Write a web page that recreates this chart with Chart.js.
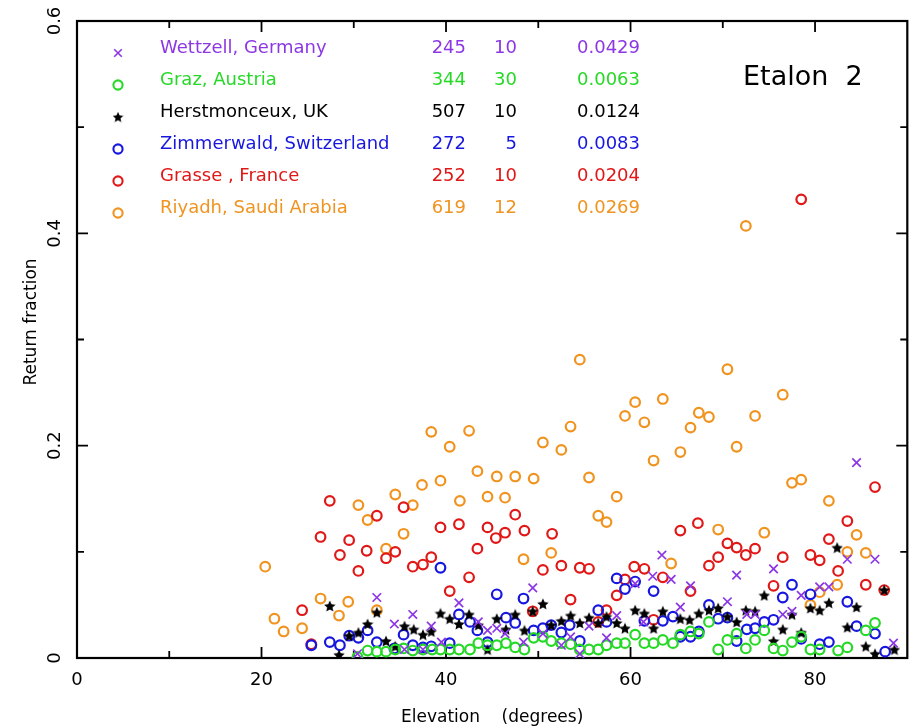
<!DOCTYPE html>
<html>
<head>
<meta charset="utf-8">
<script src="https://cdn.jsdelivr.net/npm/chart.js@4.4.1/dist/chart.umd.min.js"></script>
<style>
  html, body { margin: 0; padding: 0; background: #fff; }
  #chart { display: block; }
</style>
</head>
<body>
<canvas id="chart" width="915" height="728"></canvas>
<script>
// legend table, one entry per station
const stations = ['Wettzell, Germany', 'Graz, Austria', 'Herstmonceux, UK', 'Zimmerwald, Switzerland', 'Grasse , France', 'Riyadh, Saudi Arabia'];
const passCounts = ['245', '344', '507', '272', '252', '619'];
const binCounts = ['10', '30', '10', '5', '10', '12'];
const meanFractions = ['0.0429', '0.0063', '0.0124', '0.0083', '0.0204', '0.0269'];
const stationColors = ['#8c37e4', '#27d927', '#000000', '#1717e0', '#e01818', '#f0931f'];
const stationSymbols = ['cross', 'circle', 'star', 'circle', 'circle', 'circle'];

const xTicks = [0, 20, 40, 60, 80];
const xMarks = [10, 20, 30, 40, 50, 60, 70, 80];
const yTicks = [0, 0.2, 0.4, 0.6];
const yMarks = [0.1, 0.2, 0.3, 0.4, 0.5];

// [elevation (deg), return fraction]
const wettzell = [
  [30.4, 0.004], [32.5, 0.057], [34.4, 0.032], [35.5, 0.008], [36.4, 0.041], [37.5, 0.008],
  [38.4, 0.030], [39.5, 0.015], [41.4, 0.052], [43.5, 0.034], [44.5, 0.026], [45.5, 0.028],
  [46.4, 0.023], [48.4, 0.015], [49.4, 0.066], [50.5, 0.023], [52.5, 0.012], [53.5, 0.020],
  [54.5, 0.004], [55.5, 0.030], [57.4, 0.019], [58.5, 0.040], [60.5, 0.070], [61.4, 0.034],
  [62.4, 0.077], [63.4, 0.097], [64.4, 0.074], [65.4, 0.048], [66.5, 0.068], [70.5, 0.053],
  [71.5, 0.078], [72.6, 0.041], [73.5, 0.041], [75.5, 0.084], [76.5, 0.041], [77.5, 0.044],
  [78.5, 0.059], [80.5, 0.067], [81.5, 0.067], [83.5, 0.093], [84.5, 0.184], [86.5, 0.093],
  [88.5, 0.014]
];
const graz = [
  [30.4, 0.001], [31.5, 0.007], [32.5, 0.006], [33.5, 0.006], [34.5, 0.008], [35.4, 0.009],
  [36.4, 0.007], [37.5, 0.008], [38.5, 0.008], [39.4, 0.008], [40.4, 0.008], [41.4, 0.008],
  [42.6, 0.008], [43.5, 0.014], [44.5, 0.012], [45.5, 0.012], [46.5, 0.014], [47.5, 0.010],
  [48.5, 0.008], [49.5, 0.019], [50.5, 0.020], [51.4, 0.016], [52.5, 0.014], [53.5, 0.013],
  [54.5, 0.008], [55.5, 0.008], [56.5, 0.008], [57.4, 0.012], [58.5, 0.014], [59.4, 0.014],
  [60.5, 0.022], [61.5, 0.014], [62.5, 0.014], [63.5, 0.017], [64.6, 0.014], [65.4, 0.022],
  [66.5, 0.025], [67.4, 0.023], [68.5, 0.034], [69.5, 0.008], [70.5, 0.017], [71.5, 0.023],
  [72.5, 0.009], [73.5, 0.017], [74.5, 0.026], [75.5, 0.009], [76.5, 0.007], [77.5, 0.015],
  [78.5, 0.020], [79.5, 0.008], [80.5, 0.008], [82.5, 0.007], [83.5, 0.010], [85.5, 0.026],
  [86.5, 0.033]
];
const herstmonceux = [
  [27.4, 0.049], [28.4, 0.003], [29.5, 0.021], [30.5, 0.024], [31.5, 0.032], [32.5, 0.043],
  [33.5, 0.016], [34.5, 0.011], [35.5, 0.030], [36.5, 0.027], [37.5, 0.022], [38.4, 0.025],
  [39.4, 0.042], [40.4, 0.037], [41.4, 0.032], [42.5, 0.041], [43.5, 0.031], [44.5, 0.008],
  [45.5, 0.037], [46.5, 0.027], [47.5, 0.041], [48.5, 0.026], [49.4, 0.044], [50.5, 0.051],
  [51.4, 0.031], [52.5, 0.035], [53.5, 0.040], [54.5, 0.033], [55.5, 0.038], [56.5, 0.033],
  [57.4, 0.039], [58.5, 0.033], [59.4, 0.028], [60.5, 0.045], [61.5, 0.042], [62.5, 0.028],
  [63.5, 0.044], [65.4, 0.037], [66.4, 0.036], [67.4, 0.042], [68.5, 0.045], [69.5, 0.047],
  [70.5, 0.039], [71.5, 0.034], [72.5, 0.045], [73.5, 0.044], [74.5, 0.059], [75.5, 0.016],
  [76.5, 0.027], [77.5, 0.041], [78.5, 0.024], [79.5, 0.047], [80.5, 0.045], [81.5, 0.052],
  [82.4, 0.104], [83.5, 0.029], [84.5, 0.048], [85.5, 0.011], [86.5, 0.004], [87.5, 0.064],
  [88.6, 0.008]
];
const zimmerwald = [
  [25.4, 0.012], [27.4, 0.015], [28.5, 0.012], [29.5, 0.021], [30.5, 0.019], [31.5, 0.026],
  [32.5, 0.015], [34.4, 0.009], [35.4, 0.022], [36.4, 0.012], [37.5, 0.010], [38.4, 0.011],
  [39.4, 0.085], [40.4, 0.014], [41.4, 0.041], [42.6, 0.034], [43.4, 0.026], [44.5, 0.015],
  [45.5, 0.060], [46.5, 0.038], [47.5, 0.033], [48.4, 0.056], [49.5, 0.026], [50.5, 0.028],
  [51.4, 0.031], [52.5, 0.024], [53.4, 0.031], [54.5, 0.016], [56.5, 0.045], [57.4, 0.034],
  [58.5, 0.075], [59.4, 0.065], [60.5, 0.072], [61.5, 0.035], [62.5, 0.063], [63.5, 0.035],
  [64.6, 0.039], [65.4, 0.020], [66.5, 0.020], [67.4, 0.025], [68.5, 0.050], [69.5, 0.037],
  [70.5, 0.038], [71.5, 0.016], [72.6, 0.027], [73.5, 0.028], [74.5, 0.034], [75.5, 0.036],
  [76.5, 0.057], [77.5, 0.069], [78.5, 0.018], [79.5, 0.060], [80.5, 0.013], [81.5, 0.015],
  [83.5, 0.053], [84.5, 0.030], [86.5, 0.023], [87.6, 0.006]
];
const grasse = [
  [24.4, 0.045], [25.4, 0.013], [26.4, 0.114], [27.4, 0.148], [28.5, 0.097], [29.5, 0.111],
  [30.5, 0.082], [31.4, 0.101], [32.5, 0.134], [33.5, 0.094], [34.5, 0.100], [35.4, 0.142],
  [36.4, 0.086], [37.5, 0.088], [38.4, 0.095], [39.4, 0.123], [40.4, 0.063], [41.4, 0.126],
  [42.5, 0.076], [43.4, 0.103], [44.5, 0.123], [45.4, 0.113], [46.4, 0.118], [47.5, 0.135],
  [48.5, 0.120], [49.4, 0.044], [50.5, 0.083], [51.5, 0.117], [52.5, 0.087], [53.5, 0.055],
  [54.5, 0.085], [55.5, 0.084], [56.5, 0.034], [57.4, 0.045], [58.5, 0.059], [59.4, 0.074],
  [60.4, 0.086], [61.5, 0.084], [62.5, 0.036], [63.5, 0.076], [65.4, 0.120], [66.5, 0.063],
  [67.3, 0.127], [68.5, 0.087], [69.5, 0.095], [70.5, 0.108], [71.5, 0.104], [72.5, 0.097],
  [73.5, 0.103], [75.5, 0.068], [76.5, 0.095], [78.5, 0.432], [79.5, 0.097], [80.5, 0.092],
  [81.5, 0.112], [82.5, 0.082], [83.5, 0.129], [85.5, 0.069], [86.5, 0.161], [87.5, 0.064]
];
const riyadh = [
  [20.4, 0.086], [21.4, 0.037], [22.4, 0.025], [24.4, 0.028], [26.4, 0.056], [28.4, 0.040],
  [29.4, 0.053], [30.5, 0.144], [31.5, 0.130], [32.5, 0.045], [33.5, 0.103], [34.5, 0.154],
  [35.4, 0.117], [36.4, 0.144], [37.4, 0.163], [38.4, 0.213], [39.4, 0.167], [40.4, 0.199],
  [41.5, 0.148], [42.5, 0.214], [43.4, 0.176], [44.5, 0.152], [45.5, 0.171], [46.4, 0.151],
  [47.5, 0.171], [48.4, 0.093], [49.5, 0.169], [50.5, 0.203], [51.4, 0.099], [52.5, 0.196],
  [53.5, 0.218], [54.5, 0.281], [55.5, 0.170], [56.5, 0.134], [57.4, 0.128], [58.5, 0.152],
  [59.4, 0.228], [60.5, 0.241], [61.5, 0.222], [62.5, 0.186], [63.5, 0.244], [64.4, 0.089],
  [65.4, 0.194], [66.5, 0.217], [67.4, 0.231], [68.5, 0.227], [69.5, 0.121], [70.5, 0.272],
  [71.5, 0.199], [72.5, 0.407], [73.5, 0.228], [74.5, 0.118], [76.5, 0.248], [77.5, 0.165],
  [78.5, 0.168], [79.5, 0.050], [80.5, 0.062], [81.5, 0.148], [82.4, 0.069], [83.5, 0.100],
  [84.5, 0.116], [85.5, 0.099]
];

const FONT = '"DejaVu Sans", sans-serif';

// filled five point star used as a point image
function makeStar(size, color) {
  const c = document.createElement('canvas');
  c.width = size;
  c.height = size;
  const g = c.getContext('2d');
  const r = size / 2;
  g.beginPath();
  for (let i = 0; i < 10; i++) {
    const a = -Math.PI / 2 + i * Math.PI / 5;
    const rr = i % 2 ? r * 0.47 : r;
    g.lineTo(r + rr * Math.cos(a), r + 0.6 + rr * Math.sin(a));
  }
  g.closePath();
  g.fillStyle = color;
  g.fill();
  return c;
}
const starImg = makeStar(12, '#000');

const seriesList = [wettzell, graz, herstmonceux, zimmerwald, grasse, riyadh];

function styleFor(i) {
  const sym = stationSymbols[i];
  if (sym === 'cross') return { pointStyle: 'crossRot', pointRadius: 6, pointBorderWidth: 1.7 };
  if (sym === 'star') return { pointStyle: starImg, pointRadius: 6, pointBorderWidth: 0 };
  return { pointStyle: 'circle', pointRadius: 4.8, pointBorderWidth: 2.2 };
}

const datasets = seriesList.map((pts, i) => Object.assign({
  label: stations[i],
  data: pts.map(p => ({ x: p[0], y: p[1] })),
  borderColor: stationColors[i],
  backgroundColor: 'rgba(0,0,0,0)',
  pointHoverRadius: 0,
  showLine: false,
}, styleFor(i)));

function drawSymbol(ctx, sym, color, x, y) {
  ctx.save();
  ctx.strokeStyle = color;
  if (sym === 'circle') {
    ctx.lineWidth = 2.1;
    ctx.beginPath();
    ctx.arc(x, y, 4.6, 0, Math.PI * 2);
    ctx.stroke();
  } else if (sym === 'cross') {
    ctx.lineWidth = 1.6;
    ctx.beginPath();
    ctx.moveTo(x - 3.8, y - 3.8); ctx.lineTo(x + 3.8, y + 3.8);
    ctx.moveTo(x + 3.8, y - 3.8); ctx.lineTo(x - 3.8, y + 3.8);
    ctx.stroke();
  } else {
    ctx.drawImage(starImg, x - 5.5, y - 5.5, 11, 11);
  }
  ctx.restore();
}

const framePlugin = {
  id: 'frame',
  beforeDatasetsDraw(chart) {
    const { ctx, chartArea: a, scales: { x, y } } = chart;
    ctx.save();
    ctx.strokeStyle = '#000';
    ctx.lineWidth = 2.2;
    ctx.strokeRect(a.left, a.top, a.right - a.left, a.bottom - a.top);
    ctx.lineWidth = 1.8;
    ctx.beginPath();
    xMarks.forEach(v => {
      const px = x.getPixelForValue(v);
      const len = v % 20 === 0 ? 11 : 7;
      ctx.moveTo(px, a.bottom); ctx.lineTo(px, a.bottom - len);
      ctx.moveTo(px, a.top); ctx.lineTo(px, a.top + len);
    });
    yMarks.forEach(v => {
      const py = y.getPixelForValue(v);
      const len = Math.round(v * 10) % 2 === 0 ? 11 : 7;
      ctx.moveTo(a.left, py); ctx.lineTo(a.left + len, py);
      ctx.moveTo(a.right, py); ctx.lineTo(a.right - len, py);
    });
    ctx.stroke();
    ctx.restore();
  },
  afterDraw(chart) {
    const { ctx, scales: { y } } = chart;
    ctx.save();
    ctx.fillStyle = '#000';
    // rotated y tick labels
    ctx.font = '18px ' + FONT;
    ctx.textAlign = 'center';
    ctx.textBaseline = 'middle';
    yTicks.forEach(v => {
      ctx.save();
      ctx.translate(55, y.getPixelForValue(v));
      ctx.rotate(-Math.PI / 2);
      ctx.fillText(v === 0 ? '0' : String(v), 0, 0);
      ctx.restore();
    });
    // y axis title
    ctx.save();
    ctx.font = '17px ' + FONT;
    ctx.translate(32, 322);
    ctx.rotate(-Math.PI / 2);
    ctx.fillText('Return fraction', 0, 0);
    ctx.restore();

    // legend table
    ctx.font = '18px ' + FONT;
    ctx.textBaseline = 'middle';
    stations.forEach((name, i) => {
      const rowY = 48 + i * 32;
      ctx.fillStyle = stationColors[i];
      drawSymbol(ctx, stationSymbols[i], stationColors[i], 118, rowY + 5);
      ctx.textAlign = 'left';
      ctx.fillText(name, 160, rowY);
      ctx.textAlign = 'right';
      ctx.fillText(passCounts[i], 466, rowY);
      ctx.fillText(binCounts[i], 517, rowY);
      ctx.textAlign = 'left';
      ctx.fillText(meanFractions[i], 577, rowY);
    });

    ctx.fillStyle = '#000';
    ctx.font = '27px ' + FONT;
    ctx.textAlign = 'left';
    ctx.fillText('Etalon  2', 743, 78);
    ctx.restore();
  }
};

new Chart(document.getElementById('chart'), {
  type: 'scatter',
  data: { datasets },
  options: {
    responsive: false,
    animation: false,
    events: [],
    layout: { padding: { left: 0, top: 21, right: 7, bottom: 0 } },
    plugins: { legend: { display: false }, tooltip: { enabled: false } },
    scales: {
      x: {
        type: 'linear',
        min: 0,
        max: 90,
        grid: { display: false, drawTicks: false },
        border: { display: false },
        afterBuildTicks: s => { s.ticks = xTicks.map(v => ({ value: v })); },
        afterFit: s => { s.height = 70; },
        ticks: { color: '#000', padding: 12, font: { family: FONT, size: 18 } },
        title: {
          display: true,
          text: 'Elevation    (degrees)',
          color: '#000',
          font: { family: FONT, size: 17 },
          padding: { top: 0, bottom: 0 }
        }
      },
      y: {
        type: 'linear',
        min: 0,
        max: 0.6,
        grid: { display: false, drawTicks: false },
        border: { display: false },
        ticks: { display: false },
        afterFit: s => { s.width = 77; }
      }
    }
  },
  plugins: [framePlugin]
});
</script>
</body>
</html>
